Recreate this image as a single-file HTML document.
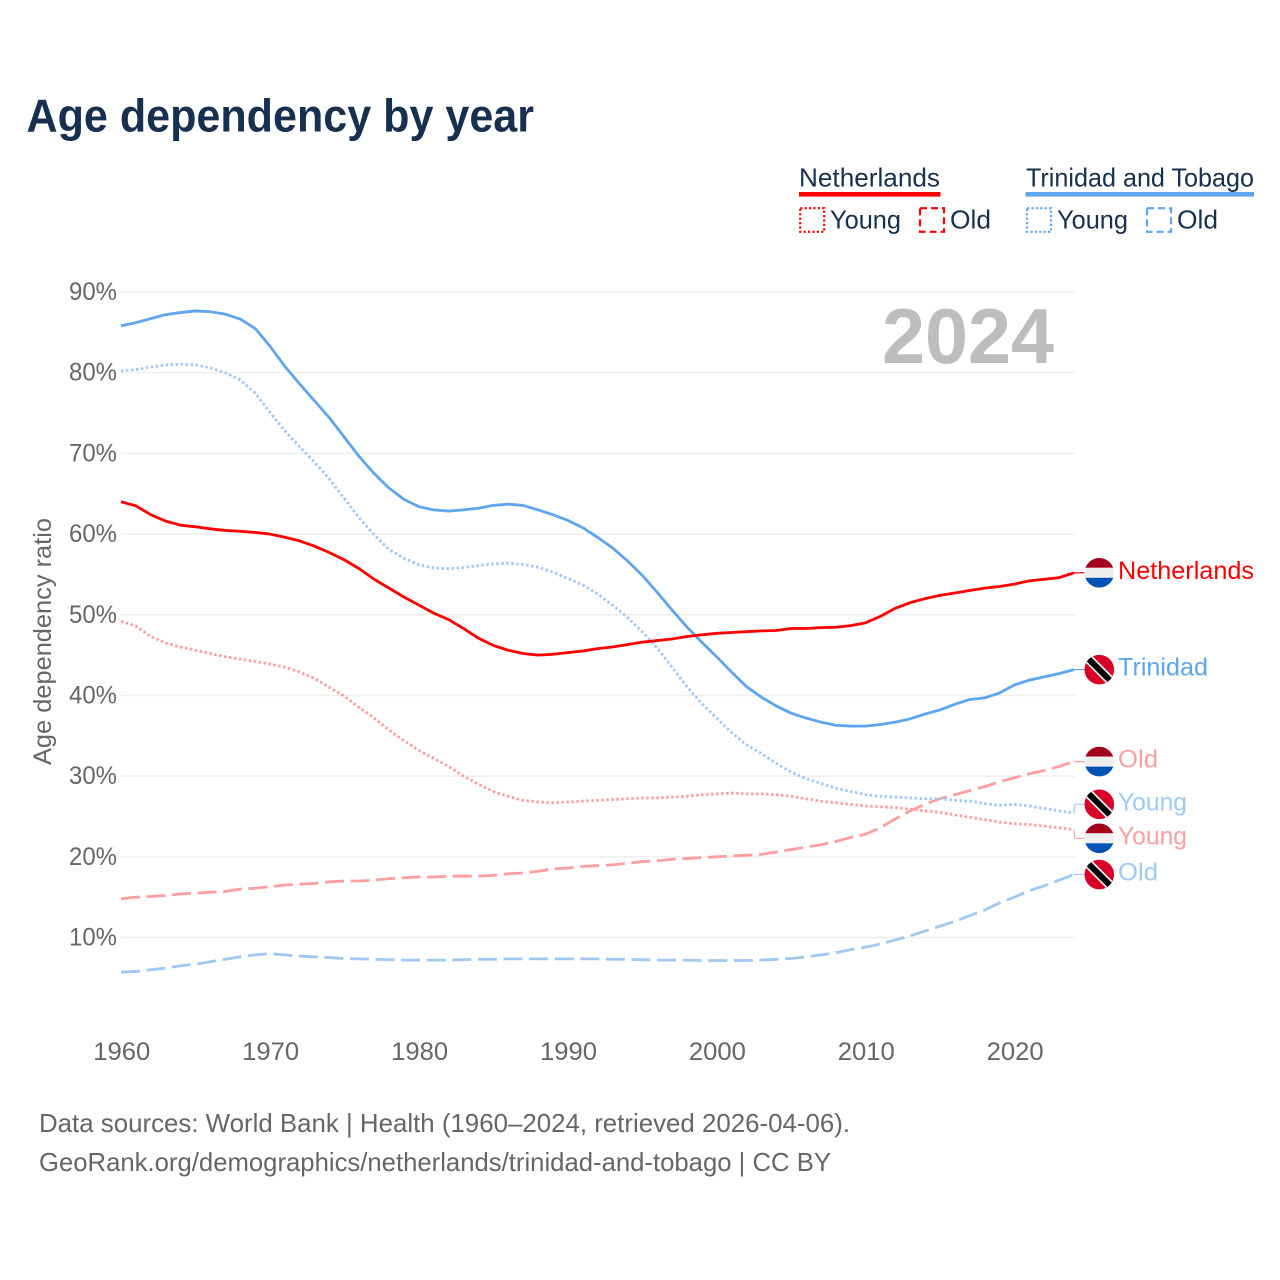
<!DOCTYPE html>
<html lang="en">
<head>
<meta charset="utf-8">
<title>Age dependency by year</title>
<style>
  html, body { margin: 0; padding: 0; background: #fff; }
  svg { display: block; font-family: "Liberation Sans", sans-serif; }
</style>
</head>
<body>
<svg id="chart" xmlns="http://www.w3.org/2000/svg" width="1280" height="1280" viewBox="0 0 1280 1280">
  <text x="26.5" y="131.5" font-size="46" font-weight="700" fill="#17304f" textLength="507.5" lengthAdjust="spacingAndGlyphs">Age dependency by year</text>

  <g>
    <text x="799" y="186.5" font-size="26" fill="#17304f" textLength="141" lengthAdjust="spacingAndGlyphs">Netherlands</text>
    <rect x="799" y="192" width="141.5" height="4.6" fill="#ff0000"/>
    <rect x="800.2" y="208.2" width="24" height="23.6" fill="none" stroke="#ff0000" stroke-width="2.2" stroke-dasharray="2.2 2.2"/>
    <text x="830" y="228.5" font-size="26" fill="#17304f" textLength="71" lengthAdjust="spacingAndGlyphs">Young</text>
    <rect x="920" y="208.2" width="24" height="23.6" fill="none" stroke="#ff0000" stroke-width="2.2" stroke-dasharray="7 4"/>
    <text x="950" y="228.5" font-size="26" fill="#17304f" textLength="41" lengthAdjust="spacingAndGlyphs">Old</text>

    <text x="1026" y="186.5" font-size="26" fill="#17304f" textLength="228" lengthAdjust="spacingAndGlyphs">Trinidad and Tobago</text>
    <rect x="1025.5" y="192" width="228.5" height="4.6" fill="#5fa5ee"/>
    <rect x="1027" y="208.2" width="24" height="23.6" fill="none" stroke="#5fa5ee" stroke-width="2.2" stroke-dasharray="2.2 2.2"/>
    <text x="1057" y="228.5" font-size="26" fill="#17304f" textLength="71" lengthAdjust="spacingAndGlyphs">Young</text>
    <rect x="1147" y="208.2" width="24" height="23.6" fill="none" stroke="#5fa5ee" stroke-width="2.2" stroke-dasharray="7 4"/>
    <text x="1177" y="228.5" font-size="26" fill="#17304f" textLength="41" lengthAdjust="spacingAndGlyphs">Old</text>
  </g>

  <g id="grid"></g>
  <g id="yticks"></g>
  <g id="xticks"></g>

  <text transform="translate(51 765) rotate(-90)" font-size="25" fill="#666666" textLength="247" lengthAdjust="spacingAndGlyphs">Age dependency ratio</text>

  <text x="882" y="363" font-size="78" font-weight="700" fill="#bdbdbd" textLength="172" lengthAdjust="spacingAndGlyphs">2024</text>

  <g id="series"></g>
  <g id="labels"></g>

  <text x="39" y="1132" font-size="26" fill="#666666" textLength="811" lengthAdjust="spacingAndGlyphs">Data sources: World Bank | Health (1960–2024, retrieved 2026-04-06).</text>
  <text x="39" y="1171" font-size="26" fill="#666666" textLength="792" lengthAdjust="spacingAndGlyphs">GeoRank.org/demographics/netherlands/trinidad-and-tobago | CC BY</text>

  <defs>
    <clipPath id="flag-clip"><circle cx="0" cy="0" r="14.8"/></clipPath>
  </defs>
</svg>

<script>
const years = [
  1960,1961,1962,1963,1964,1965,1966,1967,1968,1969,
  1970,1971,1972,1973,1974,1975,1976,1977,1978,1979,
  1980,1981,1982,1983,1984,1985,1986,1987,1988,1989,
  1990,1991,1992,1993,1994,1995,1996,1997,1998,1999,
  2000,2001,2002,2003,2004,2005,2006,2007,2008,2009,
  2010,2011,2012,2013,2014,2015,2016,2017,2018,2019,
  2020,2021,2022,2023,2024
];
const trinidadTotal = [
  85.8,86.2,86.7,87.2,87.45,87.65,87.55,87.25,86.65,85.5,
  83.3,80.8,78.6,76.5,74.4,72,69.6,67.5,65.7,64.3,
  63.4,63,62.85,63,63.2,63.55,63.7,63.55,63,62.4,
  61.7,60.8,59.6,58.3,56.7,54.9,52.8,50.6,48.5,46.6,
  44.8,42.9,41.1,39.8,38.7,37.8,37.2,36.7,36.3,36.2,
  36.2,36.4,36.7,37.1,37.7,38.2,38.9,39.5,39.7,40.3,
  41.3,41.9,42.3,42.7,43.2
];
const netherlandsTotal = [
  64,63.5,62.4,61.6,61.1,60.9,60.65,60.45,60.35,60.2,
  60,59.6,59.15,58.5,57.7,56.8,55.7,54.4,53.3,52.2,
  51.2,50.2,49.4,48.3,47.1,46.2,45.6,45.2,45,45.1,
  45.3,45.5,45.8,46,46.3,46.6,46.8,47,47.3,47.5,
  47.7,47.8,47.9,48,48.05,48.3,48.3,48.4,48.45,48.65,
  49,49.8,50.8,51.5,52,52.4,52.7,53,53.3,53.5,
  53.8,54.2,54.4,54.6,55.2
];
const trinidadYoung = [
  80.2,80.4,80.7,80.95,81.05,80.95,80.6,80,79.1,77.5,
  75.1,72.8,70.8,68.9,66.8,64.4,62,59.9,58.1,57,
  56.2,55.8,55.7,55.85,56.1,56.3,56.4,56.25,55.9,55.3,
  54.5,53.7,52.6,51.2,49.7,47.9,45.9,43.5,41.1,39,
  37.2,35.4,33.9,32.8,31.6,30.5,29.7,29.1,28.5,28.1,
  27.7,27.5,27.4,27.3,27.2,27.2,27,26.9,26.6,26.4,
  26.5,26.3,26,25.7,25.4
];
const netherlandsYoung = [
  49.2,48.6,47.3,46.5,46,45.6,45.2,44.8,44.5,44.2,
  43.9,43.5,42.9,42.1,41,39.9,38.5,37.2,35.7,34.4,
  33.2,32.2,31.2,30,29,28.1,27.5,27,26.8,26.7,
  26.8,26.9,27,27.1,27.2,27.3,27.3,27.4,27.5,27.7,
  27.8,27.9,27.8,27.8,27.7,27.5,27.2,26.9,26.7,26.5,
  26.3,26.2,26.1,25.9,25.7,25.5,25.2,24.9,24.6,24.3,
  24.1,24,23.8,23.6,23.4
];
const netherlandsOld = [
  14.8,15,15.1,15.2,15.4,15.5,15.6,15.7,16,16.1,
  16.3,16.5,16.6,16.7,16.9,17,17,17.1,17.3,17.4,
  17.5,17.5,17.6,17.6,17.6,17.7,17.9,18,18.2,18.5,
  18.6,18.8,18.9,19,19.2,19.4,19.5,19.7,19.8,19.9,
  20,20.1,20.2,20.3,20.6,20.9,21.2,21.5,21.9,22.4,
  22.8,23.6,24.7,25.7,26.5,27.2,27.7,28.2,28.7,29.3,
  29.8,30.3,30.7,31.2,31.8
];
const trinidadOld = [
  5.7,5.8,6,6.2,6.5,6.7,7,7.3,7.6,7.85,
  8,7.85,7.7,7.6,7.5,7.4,7.35,7.3,7.25,7.2,
  7.2,7.2,7.2,7.25,7.3,7.3,7.35,7.35,7.35,7.35,
  7.35,7.35,7.35,7.3,7.3,7.25,7.2,7.2,7.2,7.15,
  7.15,7.15,7.15,7.2,7.3,7.4,7.6,7.85,8.1,8.5,
  8.8,9.2,9.7,10.2,10.8,11.4,12,12.7,13.4,14.3,
  15,15.8,16.4,17.1,17.8
];
const yTickValues = [10,20,30,40,50,60,70,80,90];
const yTickLabels = ["10%","20%","30%","40%","50%","60%","70%","80%","90%"];
const xTickValues = [1960,1970,1980,1990,2000,2010,2020];
const xTickLabels = ["1960","1970","1980","1990","2000","2010","2020"];

const NS = "http://www.w3.org/2000/svg";
const X0 = 121, PX_PER_YEAR = 14.89, Y0 = 1018.2, PX_PER_PCT = 8.069;
const xScale = function (year) { return X0 + (year - 1960) * PX_PER_YEAR; };
const yScale = function (value) { return Y0 - value * PX_PER_PCT; };

function make(parent, tag, attrs) {
  const el = document.createElementNS(NS, tag);
  for (const k in attrs) el.setAttribute(k, attrs[k]);
  parent.appendChild(el);
  return el;
}

const gridGroup = document.getElementById("grid");
const yGroup = document.getElementById("yticks");
const xGroup = document.getElementById("xticks");
const seriesGroup = document.getElementById("series");
const labelGroup = document.getElementById("labels");

yTickValues.forEach(function (v, i) {
  const line = make(gridGroup, "line", { x1: 121, x2: 1075, y1: yScale(v), y2: yScale(v), stroke: "#eeeeee", "stroke-width": 1.4 });
  
  
  const t = make(yGroup, "text", { x: 117, y: yScale(v) + 8, "text-anchor": "end", "font-size": 25, fill: "#666666", textLength: 48, lengthAdjust: "spacingAndGlyphs" });
  t.textContent = yTickLabels[i];
  
  
});

xTickValues.forEach(function (v, i) {
  const t = make(xGroup, "text", { x: xScale(v) + 0.8, y: 1060, "text-anchor": "middle", "font-size": 25, fill: "#666666", textLength: 57, lengthAdjust: "spacingAndGlyphs" });
  t.textContent = xTickLabels[i];
  
  
});

const DOTTED = "2.5 2.5";
const DASHED = "19 6.6";

function linePath(values) {
  return values.map(function (v, i) {
    return (i ? "L" : "M") + xScale(years[i]).toFixed(2) + " " + yScale(v).toFixed(2);
  }).join(" ");
}

function drawLine(values, color, dash) {
  const attrs = { d: linePath(values), fill: "none", stroke: color, "stroke-width": 2.8, "stroke-linejoin": "round" };
  if (dash) attrs["stroke-dasharray"] = dash;
  return make(seriesGroup, "path", attrs);
}

const lineTTOld = drawLine(trinidadOld, "#a0c8f4", DASHED);


const lineNLOld = drawLine(netherlandsOld, "#ff9e9e", DASHED);


const lineNLYoung = drawLine(netherlandsYoung, "#ff9e9e", DOTTED);


const lineTTYoung = drawLine(trinidadYoung, "#a0c8f4", DOTTED);


const lineTTTotal = drawLine(trinidadTotal, "#5fa5ee", null);


const lineNLTotal = drawLine(netherlandsTotal, "#ff0000", null);



/* End labels: positioned from the last value of each series, pushed apart when crowded. */
const endLabels = [
  { text: "Netherlands", values: netherlandsTotal, color: "#ff0000", flag: "nl", width: 136 },
  { text: "Trinidad", values: trinidadTotal, color: "#5fa5ee", flag: "tt", width: 90 },
  { text: "Old", values: netherlandsOld, color: "#ff9e9e", flag: "nl", width: 40 },
  { text: "Young", values: trinidadYoung, color: "#a0c8f4", flag: "tt", width: 69 },
  { text: "Young", values: netherlandsYoung, color: "#ff9e9e", flag: "nl", width: 69 },
  { text: "Old", values: trinidadOld, color: "#a0c8f4", flag: "tt", width: 40 }
];
const MIN_GAP = 34;
endLabels.forEach(function (l) { l.yEnd = yScale(l.values[l.values.length - 1]); l.yPos = l.yEnd; });
for (let pass = 0; pass < 20; pass++) {
  for (let i = 1; i < endLabels.length; i++) {
    const a = endLabels[i - 1], b = endLabels[i];
    const overlap = MIN_GAP - (b.yPos - a.yPos);
    if (overlap > 0) { a.yPos -= overlap / 2; b.yPos += overlap / 2; }
  }
}

function drawFlag(group, kind) {
  if (kind === "nl") {
    const top = make(group, "rect", { x: -15, y: -15, width: 30, height: 10, fill: "#a2001d" });
    
    
    const mid = make(group, "rect", { x: -15, y: -5, width: 30, height: 10, fill: "#eeeeee" });
    
    
    const bot = make(group, "rect", { x: -15, y: 5, width: 30, height: 10, fill: "#0052b4" });
    
    
  } else {
    const bg = make(group, "rect", { x: -15, y: -15, width: 30, height: 30, fill: "#d80027" });
    
    
    const white = make(group, "line", { x1: -15, y1: -15, x2: 15, y2: 15, stroke: "#eeeeee", "stroke-width": 9.5 });
    
    
    const black = make(group, "line", { x1: -15, y1: -15, x2: 15, y2: 15, stroke: "#000000", "stroke-width": 6 });
    
    
  }
}

endLabels.forEach(function (l) {
  const xEnd = xScale(years[years.length - 1]);
  const connector = make(labelGroup, "path", {
    d: "M" + xEnd + " " + l.yEnd.toFixed(2) + " L" + (xEnd + 1) + " " + l.yPos.toFixed(2) + " L1085 " + l.yPos.toFixed(2),
    fill: "none", stroke: l.color, "stroke-width": 1.2
  });
  
  

  const flag = make(labelGroup, "g", { transform: "translate(1099.3 " + l.yPos.toFixed(2) + ")", "clip-path": "url(#flag-clip)" });
  
  
  drawFlag(flag, l.flag);

  const label = make(labelGroup, "text", { x: 1118, y: l.yPos + 6, "font-size": 25, fill: l.color, textLength: l.width, lengthAdjust: "spacingAndGlyphs" });
  label.textContent = l.text;
  
  
});
</script>
</body>
</html>
